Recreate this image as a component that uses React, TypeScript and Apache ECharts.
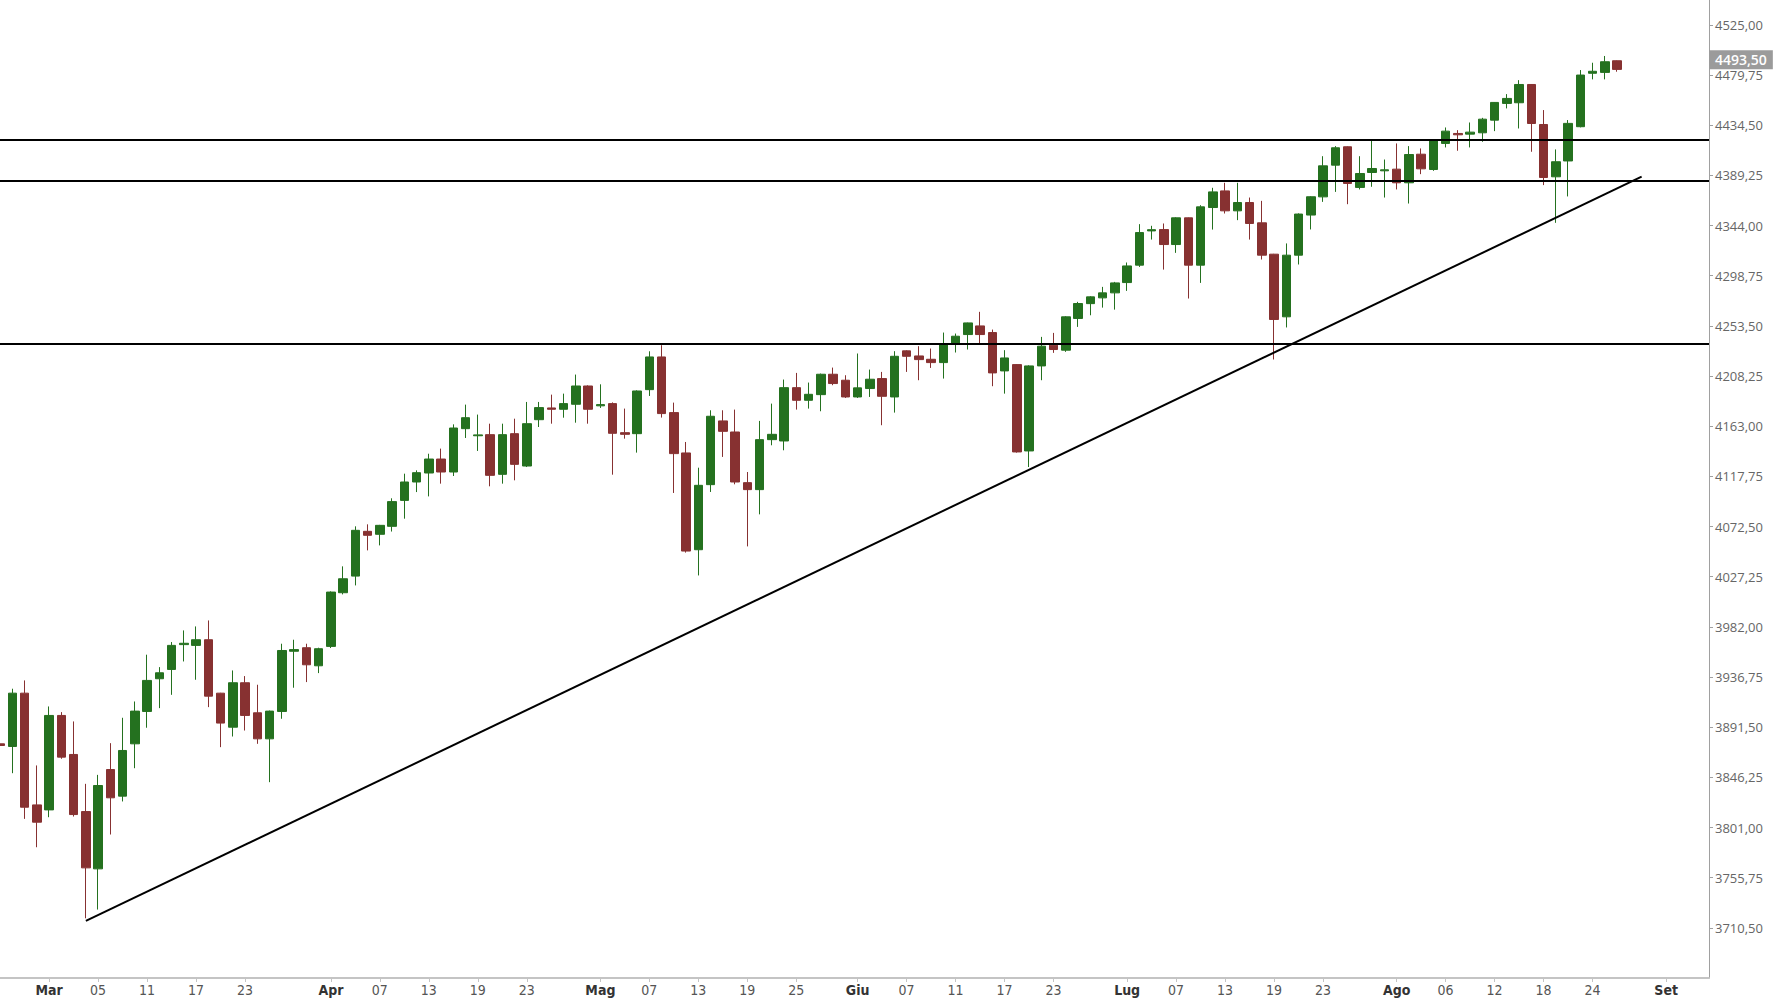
import React, { useEffect, useRef } from "react";
import * as echarts from "echarts";

// Trading days (MM-DD, 2021) including empty future slots up to the right edge
const dates = (
  "02-23 02-24 02-25 02-26 " +
  "03-01 03-02 03-03 03-04 03-05 03-08 03-09 03-10 03-11 03-12 03-15 03-16 03-17 03-18 03-19 03-22 03-23 03-24 03-25 03-26 03-29 03-30 03-31 " +
  "04-01 04-02 04-05 04-06 04-07 04-08 04-09 04-12 04-13 04-14 04-15 04-16 04-19 04-20 04-21 04-22 04-23 04-26 04-27 04-28 04-29 04-30 " +
  "05-03 05-04 05-05 05-06 05-07 05-10 05-11 05-12 05-13 05-14 05-17 05-18 05-19 05-20 05-21 05-24 05-25 05-26 05-27 05-28 05-31 " +
  "06-01 06-02 06-03 06-04 06-07 06-08 06-09 06-10 06-11 06-14 06-15 06-16 06-17 06-18 06-21 06-22 06-23 06-24 06-25 06-28 06-29 06-30 " +
  "07-01 07-02 07-05 07-06 07-07 07-08 07-09 07-12 07-13 07-14 07-15 07-16 07-19 07-20 07-21 07-22 07-23 07-26 07-27 07-28 07-29 07-30 " +
  "08-02 08-03 08-04 08-05 08-06 08-09 08-10 08-11 08-12 08-13 08-16 08-17 08-18 08-19 08-20 08-23 08-24 08-25 08-26 08-27 08-30 08-31 " +
  "09-01 09-02 09-03 09-06"
).split(" ");

const opens = [
  3876.5, 3874.1, 3922.2, 3821.4,
  3816.9, 3902.1, 3866.9, 3815.4, 3763.7, 3853.3, 3829.3, 3876.5, 3905.7, 3935.2, 3943.6, 3966, 3965.3, 3970.4, 3922.2, 3891.5, 3931.6, 3904.5, 3881, 3905.7, 3960, 3963.2, 3946.9,
  3964.4, 4012.8, 4027.8, 4068.2, 4065.5, 4072.7, 4096.1, 4112.7, 4120.8, 4133.4, 4121.7, 4160.8, 4154.4, 4155.4, 4119.6, 4156.3, 4127.1, 4168.9, 4179.5, 4178.3, 4182.8, 4199.3,
  4181.4, 4183.4, 4157.2, 4156.3, 4196, 4225.5, 4175.3, 4138.9, 4051.6, 4110.3, 4167.8, 4157.8, 4112.1, 4105.8, 4150.9, 4149.7, 4197.8, 4186.4, 4191.5, 4209.9, 4204.5,
  4189.4, 4197, 4206, 4189.4, 4231, 4226.4, 4223.4, 4220.4, 4237.6, 4245.7, 4253.5, 4247.5, 4212.9, 4218.6, 4140.7, 4217.4, 4236.1, 4231.6, 4260.2, 4273.6, 4278.8, 4283.3,
  4292.6, 4308.3, 4339.2, 4340.4, 4326.9, 4351, 4308.3, 4360.3, 4375.3, 4357.3, 4364.8, 4346.5, 4318.2, 4261.7, 4317.3, 4353.5, 4369.9, 4398.5, 4415.1, 4378.4, 4391.9, 4393.4,
  4394.9, 4382.6, 4408.4, 4394.6, 4418.1, 4427.1, 4426.5, 4427.7, 4439.1, 4454.2, 4454.8, 4471.3, 4435.2, 4388, 4402.3, 4433.2, 4481.4, 4482.2, 4492.7,
];

const closes = [
  3875, 3922.2, 3819.3, 3805.8,
  3902.1, 3864.5, 3812.7, 3764.6, 3838.9, 3827.8, 3870.5, 3906, 3933.7, 3940.6, 3965.3, 3967.2, 3970.4, 3919.5, 3895.2, 3931.6, 3902.1, 3881, 3906, 3960.7, 3961.5, 3947.8, 3962.3,
  4013.4, 4025.4, 4069.1, 4064.6, 4073.6, 4095, 4112.7, 4121.1, 4133.4, 4121.7, 4161.4, 4170.7, 4155.2, 4118.7, 4155.4, 4128.6, 4165.3, 4179.8, 4178.3, 4183.4, 4199.3, 4178.3,
  4182.5, 4156.6, 4155.7, 4194.8, 4225.5, 4174.4, 4138.3, 4050.4, 4109.7, 4172, 4158.4, 4112.7, 4105.8, 4150.9, 4155.7, 4197.8, 4186.4, 4191.8, 4209.9, 4201.5, 4189.4,
  4197.6, 4205.4, 4190, 4226.1, 4226.1, 4223.1, 4220.4, 4237.6, 4244.2, 4256.2, 4245.7, 4211.1, 4224.6, 4139.8, 4217.4, 4235.2, 4232.2, 4261.7, 4273.7, 4279.7, 4283.3, 4292.3,
  4307.6, 4337.7, 4340.3, 4326.9, 4351, 4308.3, 4360.9, 4374.4, 4357.3, 4364.8, 4345.9, 4317.3, 4259.3, 4317.3, 4354.4, 4370, 4397.9, 4414.2, 4382, 4391, 4395.5, 4394.3,
  4382.6, 4408.1, 4395.2, 4420.5, 4429.2, 4425.9, 4428.3, 4440, 4455.1, 4458.7, 4471.3, 4436.1, 4387.4, 4401.6, 4436.2, 4479.8, 4483.2, 4491.8, 4484.9,
];

const lows = [
  3803.7, 3850, 3808.8, 3783.2,
  3810.3, 3863, 3810.9, 3719.1, 3727, 3794.7, 3824.5, 3854.5, 3891, 3908.7, 3920.7, 3950.8, 3934.3, 3909.6, 3873.5, 3883.1, 3888.5, 3876.5, 3841.9, 3899.1, 3927.1, 3932.2, 3940.3,
  3962.9, 4011.3, 4019.4, 4051, 4055.5, 4068, 4079.6, 4103.6, 4099.7, 4111.2, 4118.1, 4152.4, 4140.7, 4108.8, 4111.2, 4114.2, 4126.2, 4162.3, 4165.3, 4170.7, 4166.2, 4165.3,
  4179.5, 4119.3, 4151.8, 4139.2, 4190.3, 4170.8, 4102.8, 4049, 4028.4, 4103.7, 4135.3, 4110.6, 4054.6, 4083.5, 4145.8, 4141.3, 4178, 4178.9, 4176.5, 4200, 4188.5,
  4188.5, 4189.4, 4163.9, 4175.3, 4212, 4204.5, 4215.6, 4206, 4229.5, 4232.2, 4237.6, 4199.1, 4192.4, 4139.2, 4126.2, 4204.5, 4229.2, 4230.1, 4252.6, 4263.1, 4270, 4268.2,
  4285.1, 4306.7, 4331.4, 4304.3, 4319.4, 4278.2, 4292.3, 4340.4, 4354.9, 4348.9, 4331.4, 4313.4, 4223.2, 4252.1, 4308.9, 4340.5, 4365.4, 4374.4, 4363.3, 4376.6, 4379, 4369.3,
  4376.6, 4363.9, 4390.4, 4393.4, 4414.5, 4411.5, 4414.5, 4419.6, 4429.2, 4449.7, 4431.6, 4410.6, 4380.5, 4346.5, 4370.3, 4432.6, 4475.9, 4475.9, 4482.8,
];

const highs = [
  3894.6, 3926.2, 3933.7, 3857,
  3910.2, 3905.1, 3896.7, 3840.4, 3848.5, 3877.1, 3900, 3914.7, 3956.9, 3945.7, 3968.3, 3978.8, 3982.4, 3987.8, 3922.5, 3942.7, 3937.6, 3929.8, 3906.5, 3966.8, 3970.4, 3966.8, 3963.2,
  4014, 4036.6, 4072.7, 4074.5, 4074, 4098, 4120.2, 4123.2, 4138.2, 4142.8, 4164.7, 4182.5, 4173.5, 4165.3, 4165.3, 4169.8, 4184.9, 4184.9, 4191.5, 4192.4, 4209.6, 4199.9,
  4200.8, 4184.5, 4178.9, 4195.4, 4230.6, 4236.1, 4184.3, 4148.8, 4125.6, 4177.4, 4177.4, 4178, 4121.7, 4167.8, 4183.4, 4205.1, 4211.1, 4202.4, 4210.5, 4215.9, 4209,
  4228.6, 4214.1, 4212, 4230.7, 4231.5, 4235.2, 4233.1, 4247.5, 4246.6, 4256.5, 4266.2, 4250.2, 4231.6, 4219, 4218, 4243.6, 4247.2, 4262.3, 4275.2, 4280.3, 4288.7, 4293.2,
  4310.7, 4345.3, 4343.8, 4345.9, 4351.5, 4351.3, 4362.4, 4378.1, 4382.6, 4382.6, 4369.3, 4366.3, 4318.5, 4327.9, 4355, 4370.5, 4406.6, 4415.7, 4415.5, 4406.6, 4421.1, 4403.6,
  4418.1, 4415.7, 4413.6, 4421.1, 4432.5, 4430.1, 4437, 4441.2, 4455.4, 4462.6, 4475.2, 4471.6, 4448.2, 4412.7, 4439.2, 4484.3, 4490.9, 4497, 4493,
];

// X tick labels
const xTickDates = ["03-01", "03-05", "03-11", "03-17", "03-23", "04-01", "04-07", "04-13", "04-19", "04-23", "05-03", "05-07", "05-13", "05-19", "05-25", "06-01", "06-07", "06-11", "06-17", "06-23", "07-01", "07-07", "07-13", "07-19", "07-23", "08-02", "08-06", "08-12", "08-18", "08-24", "09-01"];
const xTickTexts = ["Mar", "05", "11", "17", "23", "Apr", "07", "13", "19", "23", "Mag", "07", "13", "19", "25", "Giu", "07", "11", "17", "23", "Lug", "07", "13", "19", "23", "Ago", "06", "12", "18", "24", "Set"];
const monthNames = ["Mar", "Apr", "Mag", "Giu", "Lug", "Ago", "Set"];

// Y axis
const yMin = 3665.25;
const yMax = 4547.5;
const yStep = 45.25;

// Drawn levels and trend line
const levels = [4421.8, 4384.0, 4237.8];
const trendStart: [string, number] = ["03-04", 3716.7];
const trendEnd: [string, number] = ["08-30", 4388.1];
const lastPrice = 4493.5;

const UP = "#24711f";
const DOWN = "#873131";
const NARROW = "'Liberation Sans Narrow', 'DejaVu Sans Condensed', 'Open Sans', sans-serif";

export default function App() {
  const ref = useRef<HTMLDivElement>(null);

  useEffect(() => {
    if (!ref.current) return;
    const chart = echarts.init(ref.current, undefined, { renderer: "svg" });
    const candles = opens.map((o, k) => [o, closes[k], lows[k], highs[k]]);
    const tickMap: Record<string, string> = {};
    xTickDates.forEach((d, k) => (tickMap[d] = xTickTexts[k]));
    const fmt = (v: number) => v.toFixed(2).replace(".", ",");

    chart.setOption({
      animation: false,
      backgroundColor: "#ffffff",
      grid: { left: 0, right: 66, top: 0, bottom: 22 },
      xAxis: {
        type: "category",
        data: dates,
        boundaryGap: true,
        axisLine: { show: true, lineStyle: { color: "#c4c4c4", width: 2 } },
        axisTick: {
          show: true,
          alignWithLabel: true,
          length: 4,
          interval: (_i: number, v: string) => v in tickMap,
          lineStyle: { color: "#c4c4c4" },
        },
        axisLabel: {
          interval: (_i: number, v: string) => v in tickMap,
          formatter: (v: string) => {
            const t = tickMap[v];
            if (!t) return "";
            return monthNames.includes(t) ? "{m|" + t + "}" : "{d|" + t + "}";
          },
          margin: 5,
          rich: {
            m: { fontFamily: NARROW, fontWeight: "bold", fontSize: 14, color: "#333" },
            d: { fontFamily: NARROW, fontSize: 14, color: "#555" },
          },
        },
        splitLine: { show: false },
      },
      yAxis: {
        type: "value",
        position: "right",
        min: yMin,
        max: yMax,
        interval: yStep,
        axisLine: { show: true, lineStyle: { color: "#a0a0a0", width: 1 } },
        axisTick: { show: true, length: 4, lineStyle: { color: "#a0a0a0" } },
        axisLabel: {
          formatter: (v: number) => fmt(v),
          color: "#666",
          fontFamily: "'Open Sans', sans-serif",
          fontSize: 13,
          margin: 6,
          showMinLabel: false,
          showMaxLabel: false,
        },
        splitLine: { show: false },
      },
      series: [
        {
          type: "candlestick",
          data: candles,
          barWidth: 9,
          itemStyle: {
            color: UP,
            color0: DOWN,
            borderColor: UP,
            borderColor0: DOWN,
            borderWidth: 1,
          },
          markLine: {
            silent: true,
            symbol: ["none", "none"],
            animation: false,
            label: { show: false },
            lineStyle: { color: "#000", width: 2, type: "solid" },
            data: [
              ...levels.map((l) => ({ yAxis: l })),
              [{ coord: trendStart }, { coord: trendEnd }],
            ],
          },
        },
        {
          type: "line",
          data: [],
          silent: true,
          markLine: {
            silent: true,
            symbol: ["none", "none"],
            animation: false,
            lineStyle: { color: "rgba(0,0,0,0)", width: 1 },
            label: {
              show: true,
              position: "end",
              distance: 0,
              formatter: fmt(lastPrice),
              backgroundColor: "#9b9b9b",
              color: "#ffffff",
              fontFamily: "'Open Sans', sans-serif",
              fontWeight: 600,
              fontSize: 14,
              padding: [3, 6, 2, 6],
            },
            data: [{ yAxis: lastPrice }],
          },
        },
      ],
    });

    return () => chart.dispose();
  }, []);

  return (
    <div
      ref={ref}
      style={{ position: "fixed", left: -6, top: 0, width: 1781, height: 1000 }}
    />
  );
}
